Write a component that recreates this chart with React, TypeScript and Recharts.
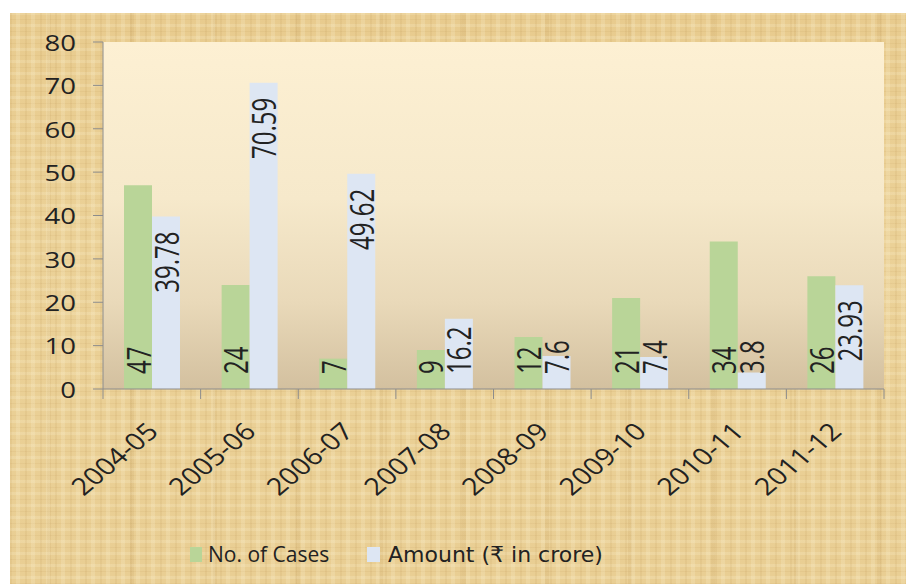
import React from "react";
import {
  Bar,
  BarChart,
  CartesianGrid,
  LabelList,
  Legend,
  XAxis,
  YAxis,
} from "recharts";

const years = [
  "2004-05",
  "2005-06",
  "2006-07",
  "2007-08",
  "2008-09",
  "2009-10",
  "2010-11",
  "2011-12",
];
const casesCount = [47, 24, 7, 9, 12, 21, 34, 26];
const amountCrore = [39.78, 70.59, 49.62, 16.2, 7.6, 7.4, 3.8, 23.93];
const yTicks = [0, 10, 20, 30, 40, 50, 60, 70, 80];

const data = years.map((year, i) => ({
  year,
  cases: casesCount[i],
  amount: amountCrore[i],
}));

const W = 906;
const H = 584;
const PLOT_LEFT = 103;
const PLOT_RIGHT = 22;
const PLOT_TOP = 42;
const PLOT_BOTTOM = 389;
const BAND = (W - PLOT_LEFT - PLOT_RIGHT) / years.length;

const LABEL_FONT = 24;
const LABEL_BASE = PLOT_BOTTOM - 15;

// rough width of a number label in Open Sans
function labelLength(s: string) {
  let w = 0;
  for (const ch of s) w += ch === "." ? 0.27 : 0.572;
  return w * LABEL_FONT;
}

function barBox(props: any) {
  const vb = props.viewBox ?? props;
  return { x: Number(vb.x), y: Number(vb.y), width: Number(vb.width) };
}

function rotatedLabel(cx: number, y: number, anchor: "start" | "end", text: string) {
  return (
    <text
      transform={`translate(${cx},${y}) rotate(-90) scale(1,1.35)`}
      textAnchor={anchor}
      dominantBaseline="central"
      fontFamily="'Open Sans', sans-serif"
      fontSize={LABEL_FONT}
      fill="#222222"
    >
      {text}
    </text>
  );
}

function CasesLabel(props: any) {
  const { x, width } = barBox(props);
  return rotatedLabel(x + width / 2, LABEL_BASE, "start", String(props.value));
}

function AmountLabel(props: any) {
  const { x, y, width } = barBox(props);
  const text = String(props.value);
  const top = y + 15;
  // tall bars: label hangs from the top, short bars: sits on the base
  if (top + labelLength(text) <= LABEL_BASE) {
    return rotatedLabel(x + width / 2, top, "end", text);
  }
  return rotatedLabel(x + width / 2, LABEL_BASE, "start", text);
}

function YearTick(props: any) {
  const { x, y, payload, index } = props;
  const left = x - BAND / 2;
  const right = x + BAND / 2;
  return (
    <g>
      <line x1={left} y1={y} x2={left} y2={y + 10} stroke="#8c8c8c" />
      {index === years.length - 1 && (
        <line x1={right} y1={y} x2={right} y2={y + 10} stroke="#8c8c8c" />
      )}
      <text
        transform={`translate(${x + 8},${y + 44}) scale(1.2,1) rotate(-45)`}
        textAnchor="end"
        fontFamily="'Open Sans', sans-serif"
        fontSize={24}
        fill="#222222"
      >
        {payload.value}
      </text>
    </g>
  );
}

function ValueTick(props: any) {
  const { x, y, payload } = props;
  return (
    <text
      transform={`translate(${x},${y}) scale(1.25,1)`}
      textAnchor="end"
      dominantBaseline="central"
      fontFamily="'Open Sans', sans-serif"
      fontSize={22}
      fill="#222222"
    >
      {payload.value}
    </text>
  );
}

function LegendBox() {
  return (
    <svg width={W} height={50} style={{ display: "block" }}>
      <rect x={190} y={17} width={12} height={15} fill="#b9d598" />
      <text
        x={208}
        y={32}
        fontFamily="'Open Sans', sans-serif"
        fontSize={21}
        fill="#222222"
      >
        No. of Cases
      </text>
      <rect x={367} y={17} width={13} height={15} fill="#dde6f3" />
      <text
        x={388}
        y={32}
        fontFamily="'DejaVu Sans', 'Noto Sans', sans-serif"
        fontSize={22}
        fill="#222222"
      >
        Amount (₹ in crore)
      </text>
    </svg>
  );
}

export default function App() {
  return (
    <div
      style={{
        position: "absolute",
        left: 0,
        top: 0,
        width: W,
        height: H,
        background: "#ffffff",
        overflow: "hidden",
      }}
    >
      <div
        style={{
          position: "absolute",
          left: 10,
          top: 13,
          right: 0,
          bottom: 0,
          background:
            "repeating-linear-gradient(90deg, rgba(160,115,45,0.08) 0 2px, transparent 2px 6px, rgba(255,248,220,0.18) 6px 10px, transparent 10px 15px)," +
            "repeating-linear-gradient(0deg, rgba(160,115,45,0.07) 0 1px, transparent 1px 5px, rgba(255,248,220,0.18) 5px 8px, transparent 8px 12px)," +
            "repeating-linear-gradient(90deg, transparent 0 37px, rgba(170,125,55,0.10) 37px 41px, transparent 41px 83px)," +
            "linear-gradient(180deg, #e8cb8e 0%, #ebd197 40%, #e9ce93 100%)",
        }}
      />
      <div style={{ position: "absolute", left: 0, top: 0 }}>
        <BarChart
          width={W}
          height={H}
          data={data}
          margin={{ top: PLOT_TOP, right: PLOT_RIGHT, bottom: 0, left: 0 }}
          barGap={0}
        >
          <defs>
            <linearGradient id="plotFill" x1="0" y1="0" x2="0" y2="1">
              <stop offset="0%" stopColor="#fdf0d3" />
              <stop offset="45%" stopColor="#f6e9cb" />
              <stop offset="75%" stopColor="#e9d9b9" />
              <stop offset="100%" stopColor="#d3c09f" />
            </linearGradient>
          </defs>
          <CartesianGrid
            horizontal={false}
            vertical={false}
            fill="url(#plotFill)"
            stroke="none"
          />
          <XAxis
            dataKey="year"
            height={H - PLOT_BOTTOM}
            axisLine={{ stroke: "#8c8c8c" }}
            tickLine={false}
            tickSize={0}
            tickMargin={0}
            interval={0}
            tick={<YearTick />}
          />
          <YAxis
            width={PLOT_LEFT}
            domain={[0, 80]}
            ticks={yTicks}
            interval={0}
            axisLine={{ stroke: "#8c8c8c" }}
            tickLine={{ stroke: "#8c8c8c" }}
            tickSize={10}
            tickMargin={17}
            tick={<ValueTick />}
          />
          <Legend
            verticalAlign="middle"
            layout="horizontal"
            wrapperStyle={{ top: 530, left: 0, width: W }}
            content={() => <LegendBox />}
          />
          <Bar
            dataKey="cases"
            name="No. of Cases"
            fill="#b9d598"
            barSize={28}
            isAnimationActive={false}
          >
            <LabelList dataKey="cases" content={<CasesLabel />} />
          </Bar>
          <Bar
            dataKey="amount"
            name="Amount (₹ in crore)"
            fill="#dde6f3"
            barSize={28}
            isAnimationActive={false}
          >
            <LabelList dataKey="amount" content={<AmountLabel />} />
          </Bar>
        </BarChart>
      </div>
    </div>
  );
}
